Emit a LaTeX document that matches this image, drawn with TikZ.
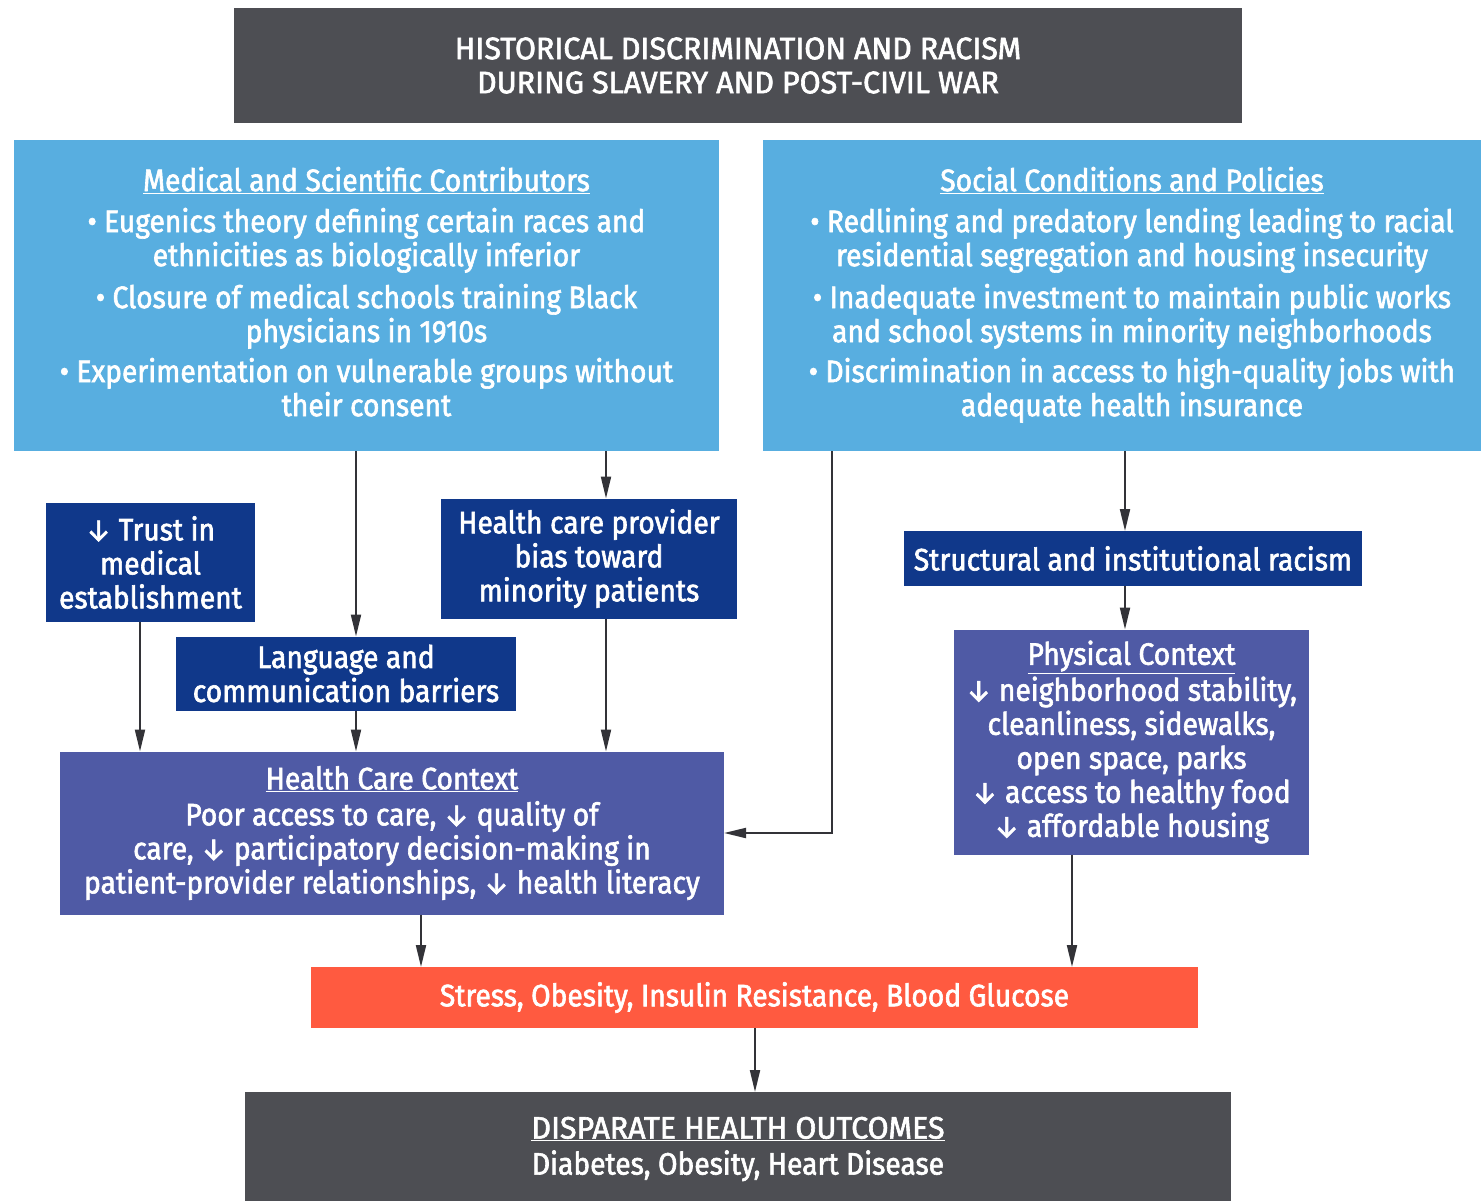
\documentclass[tikz,border=0pt]{standalone}
\usepackage{fontspec}
\setmainfont{Fira Sans}[FakeStretch=0.91, FakeBold=2]
\newfontfamily\hdrfont{Fira Sans}[FakeStretch=0.98, FakeBold=2]
\usetikzlibrary{arrows.meta,calc}
\definecolor{dgray}{HTML}{4D4E53}
\definecolor{lblue}{HTML}{58AEE0}
\definecolor{dblue}{HTML}{10388A}
\definecolor{mblue}{HTML}{4F5AA5}
\definecolor{redbox}{HTML}{FF5A40}
\definecolor{lineg}{HTML}{333338}
\begin{document}
\begin{tikzpicture}[x=1pt,y=-1pt,
  box/.style={inner sep=0pt, outer sep=0pt, align=center, text=white,
    font=\fontsize{31}{34}\selectfont},
  arr/.style={draw=lineg, line width=2pt, -{Triangle[length=22pt,width=10pt]}}]
\useasboundingbox (0,0) rectangle (1481,1200);
\clip (0,0) rectangle (1481,1200);
\fill[white] (0,0) rectangle (1481,1200);
\node[box, fill=dgray, minimum width=1008pt, minimum height=115pt,
  font=\hdrfont\fontsize{31}{34}\selectfont] (top) at (738,65.5)
  {HISTORICAL DISCRIMINATION AND RACISM\\DURING SLAVERY AND POST-CIVIL WAR};
\node[box, fill=lblue, minimum width=705pt, minimum height=311pt, text depth=8pt] (lb) at (366.5,295.5)
  {\underline{Medical and Scientific Contributors}\\[7pt]
   • Eugenics theory defining certain races and\\ethnicities as biologically inferior\\[8pt]
   • Closure of medical schools training Black\\physicians in 1910s\\[6pt]
   • Experimentation on vulnerable groups without\\their consent};
\node[box, fill=lblue, minimum width=738pt, minimum height=311pt, text depth=8pt] (rb) at (1132,295.5)
  {\underline{Social Conditions and Policies}\\[7pt]
   • Redlining and predatory lending leading to racial\\residential segregation and housing insecurity\\[8pt]
   • Inadequate investment to maintain public works\\and school systems in minority neighborhoods\\[6pt]
   • Discrimination in access to high-quality jobs with\\adequate health insurance};
\node[box, fill=dblue, minimum width=209pt, minimum height=119pt] (trust) at (150.5,562.5)
  {↓ Trust in\\medical\\establishment};
\node[box, fill=dblue, minimum width=296pt, minimum height=120pt] (hcp) at (589,558.5)
  {Health care provider\\bias toward\\minority patients};
\node[box, fill=dblue, minimum width=340pt, minimum height=74pt] (lang) at (346,673.5)
  {Language and\\communication barriers};
\node[box, fill=mblue, minimum width=664pt, minimum height=163pt] (hcc) at (392,833)
  {\underline{Health Care Context}\\[2pt]
   Poor access to care, ↓ quality of\\care, ↓ participatory decision-making in\\patient-provider relationships, ↓ health literacy};
\node[box, fill=dblue, minimum width=458pt, minimum height=55pt] (struct) at (1133,558.5)
  {Structural and institutional racism};
\node[box, fill=mblue, minimum width=355pt, minimum height=225pt] (phys) at (1131.5,742)
  {\underline{Physical Context}\\[2pt]
   ↓ neighborhood stability,\\cleanliness, sidewalks,\\open space, parks\\↓ access to healthy food\\↓ affordable housing};
\node[box, fill=redbox, minimum width=887pt, minimum height=61pt] (red) at (754.5,997.5)
  {Stress, Obesity, Insulin Resistance, Blood Glucose};
\node[box, fill=dgray, minimum width=986pt, minimum height=114pt] (bot) at (738,1149)
  {{\hdrfont\underline{DISPARATE HEALTH OUTCOMES}}\\[2pt]Diabetes, Obesity, Heart Disease};
\coordinate (c356) at (356,0);
\coordinate (c606) at (606,0);
\coordinate (c140) at (140,0);
\coordinate (c832) at (832,0);
\coordinate (c1125) at (1125,0);
\coordinate (c421) at (421,0);
\coordinate (c1072) at (1072,0);
\coordinate (c755) at (755,0);
\draw[arr] (lb.south -| c356) -- (lang.north -| c356);
\draw[arr] (lb.south -| c606) -- (hcp.north -| c606);
\draw[arr] (trust.south -| c140) -- (hcc.north -| c140);
\draw[arr] (lang.south -| c356) -- (hcc.north -| c356);
\draw[arr] (hcp.south -| c606) -- (hcc.north -| c606);
\draw[arr] (rb.south -| c832) |- (hcc.east);
\draw[arr] (rb.south -| c1125) -- (struct.north -| c1125);
\draw[arr] (struct.south -| c1125) -- (phys.north -| c1125);
\draw[arr] (hcc.south -| c421) -- (red.north -| c421);
\draw[arr] (phys.south -| c1072) -- (red.north -| c1072);
\draw[arr] (red.south -| c755) -- (bot.north -| c755);
\end{tikzpicture}
\end{document}
